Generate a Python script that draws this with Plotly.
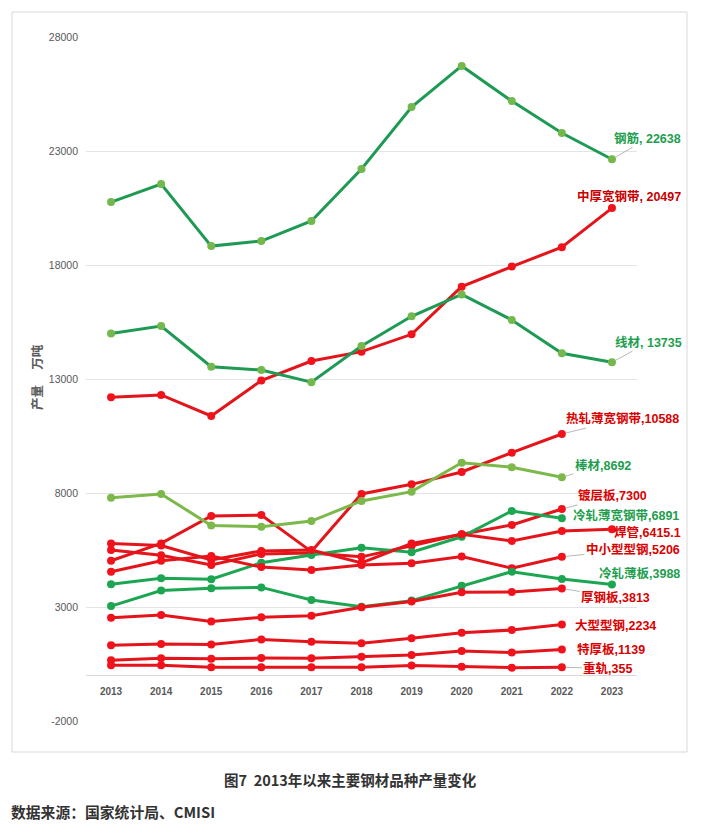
import plotly.graph_objects as go

years = list(range(2013, 2024))

# 万吨
rebar = [20760, 21550, 18830, 19050, 19930, 22210, 24930, 26730, 25190, 23790, 22638]
medium_thick_wide = [12200, 12300, 11380, 12930, 13790, 14200, 14960, 17050, 17930, 18780, 20497]
wire_rod = [15000, 15320, 13540, 13390, 12860, 14450, 15750, 16710, 15590, 14130, 13735]
hot_thin_wide = [5030, 5790, 6990, 7030, 5430, 7960, 8380, 8920, 9770, 10588, None]
bar = [7790, 7960, 6570, 6520, 6770, 7650, 8060, 9330, 9130, 8692, None]
coated = [5500, 5270, 4840, 5330, 5370, 5200, 5690, 6190, 6600, 7300, None]
cold_thin_wide = [4000, 4260, 4220, 4940, 5280, 5600, 5400, 6080, 7210, 6891, None]
welded_pipe = [5790, 5700, 5060, 5460, 5500, 4930, 5790, 6190, 5900, 6330, 6415.1]
mid_small_section = [4550, 5030, 5240, 4750, 4620, 4840, 4920, 5210, 4700, 5206, None]
cold_thin = [3040, 3720, 3820, 3860, 3310, 3010, 3280, 3930, 4550, 4230, 3988]
heavy_plate = [2530, 2650, 2360, 2550, 2620, 2990, 3240, 3650, 3660, 3813, None]
large_section = [1320, 1380, 1360, 1580, 1480, 1410, 1630, 1870, 1990, 2234, None]
extra_thick = [660, 750, 730, 760, 750, 820, 890, 1070, 1000, 1139, None]
heavy_rail = [440, 440, 360, 360, 360, 360, 430, 380, 340, 355, None]

y_ticks = [-2000, 3000, 8000, 13000, 18000, 23000, 28000]
y_ticktext = ["-2000", "3000", "8000", "13000", "18000", "23000", "28000"]

GREEN_LINE = "#1F9A55"
GREEN_MK = "#72B84C"
GREEN2 = "#1DA652"
BAR_GREEN = "#7CB84A"
RED = "#E3151B"
RED_MK = "#F2121C"
G_TXT = "#1E9E4E"
R_TXT = "#D90000"

# name, data, line colour, marker colour, label colour, separator, label placement
series = [
    ("钢筋", rebar, GREEN_LINE, GREEN_MK, G_TXT, ", ", dict(arrow=True, ax=36, ay=-21)),
    ("中厚宽钢带", medium_thick_wide, RED, RED_MK, "#C80000", ", ", dict(arrow=False, xs=17, ys=12)),
    ("线材", wire_rod, GREEN_LINE, GREEN_MK, G_TXT, ", ", dict(arrow=True, ax=37, ay=-20)),
    ("热轧薄宽钢带", hot_thin_wide, RED, RED_MK, R_TXT, ",", dict(arrow=True, ax=61, ay=-15)),
    ("棒材", bar, BAR_GREEN, BAR_GREEN, G_TXT, ",", dict(arrow=True, ax=41, ay=-12)),
    ("镀层板", coated, RED, RED_MK, R_TXT, ",", dict(arrow=True, ax=51, ay=-13)),
    ("冷轧薄宽钢带", cold_thin_wide, GREEN2, GREEN2, G_TXT, ",", dict(arrow=False, xs=64, ys=3)),
    ("焊管", welded_pipe, RED, RED_MK, R_TXT, ",", dict(arrow=False, xs=36, ys=-3)),
    ("中小型型钢", mid_small_section, RED, RED_MK, R_TXT, ",", dict(arrow=True, ax=71, ay=-7)),
    ("冷轧薄板", cold_thin, GREEN2, GREEN2, G_TXT, ",", dict(arrow=False, xs=28, ys=11)),
    ("厚钢板", heavy_plate, RED, RED_MK, R_TXT, ",", dict(arrow=True, ax=54, ay=9)),
    ("大型型钢", large_section, RED, RED_MK, R_TXT, ",", dict(arrow=False, xs=54, ys=-1)),
    ("特厚板", extra_thick, RED, RED_MK, R_TXT, ",", dict(arrow=False, xs=49, ys=0)),
    ("重轨", heavy_rail, RED, RED_MK, R_TXT, ",", dict(arrow=True, ax=46, ay=1)),
]

LABEL_FONT = "Liberation Sans, Noto Sans CJK SC, sans-serif"

fig = go.Figure()
annotations = []
for name, data, lc, mc, tc, sep, pl in series:
    fig.add_trace(go.Scatter(
        x=years, y=data, mode="lines+markers", name=name,
        line=dict(color=lc, width=3),
        marker=dict(color=mc, size=8, line=dict(width=0)),
        connectgaps=False, showlegend=False,
    ))
    idx = max(i for i, v in enumerate(data) if v is not None)
    xv, yv = years[idx], data[idx]
    val = f"{yv:g}"
    text = f"<b>{name}{sep}{val}</b>"
    a = dict(x=xv, y=yv, xref="x", yref="y", text=text,
             font=dict(family=LABEL_FONT, size=12.5, color=tc))
    if pl["arrow"]:
        a.update(showarrow=True, ax=pl["ax"], ay=pl["ay"], arrowhead=0,
                 arrowwidth=0.8, arrowcolor="#A6A6A6", standoff=4)
    else:
        a.update(showarrow=False, xshift=pl["xs"], yshift=pl["ys"],
                 xanchor="center", yanchor="middle")
    annotations.append(a)

# plot area in page pixels: x 86..637, y 37..721 (page has an 8px body margin)
def px(x):
    return (x - 86) / 551


def py(y):
    return (721 - y) / 684


annotations += [
    dict(x=px(36), y=py(377), xref="paper", yref="paper",
         text="<b>产量 　万吨</b>", textangle=-90, showarrow=False,
         xanchor="center", yanchor="middle",
         font=dict(family="Noto Sans CJK SC", size=12.5, color="#595959")),
    dict(x=px(350), y=py(779), xref="paper", yref="paper",
         text="<b>图7\u00a0\u00a02013年以来主要钢材品种产量变化</b>", showarrow=False,
         xanchor="center", yanchor="middle",
         font=dict(family="Noto Sans CJK SC", size=14.5, color="#333333")),
    dict(x=px(9), y=py(811), xref="paper", yref="paper",
         text="<b>数据来源：国家统计局、CMISI</b>", showarrow=False,
         xanchor="left", yanchor="middle",
         font=dict(family="Noto Sans CJK SC", size=14.8, color="#333333")),
]

fig.update_layout(
    width=685, height=823,
    margin=dict(l=78, r=56, t=29, b=110),
    paper_bgcolor="white", plot_bgcolor="white",
    showlegend=False,
    annotations=annotations,
    shapes=[dict(type="rect", xref="paper", yref="paper",
                 x0=px(12), x1=px(687), y0=py(752), y1=py(12),
                 line=dict(color="#D9D9D9", width=1), layer="below")],
    xaxis=dict(
        range=[2012.5, 2023.5], tickmode="array", tickvals=years,
        ticktext=[str(y) for y in years],
        showgrid=False, zeroline=False, showline=True, linecolor="#D9D9D9", linewidth=1,
        anchor="free", position=2000 / 30000, ticks="", ticklabelstandoff=7,
        tickfont=dict(family="Liberation Sans", size=10, color="#595959", weight="bold"),
    ),
    yaxis=dict(
        range=[-2000, 28000], tickmode="array", tickvals=y_ticks, ticktext=y_ticktext,
        showgrid=True, gridcolor="#E3E3E3", gridwidth=1, zeroline=False,
        ticks="", ticklabelstandoff=7,
        tickfont=dict(family="Liberation Sans", size=10.5, color="#595959"),
    ),
)

fig.write_html("out.html")
